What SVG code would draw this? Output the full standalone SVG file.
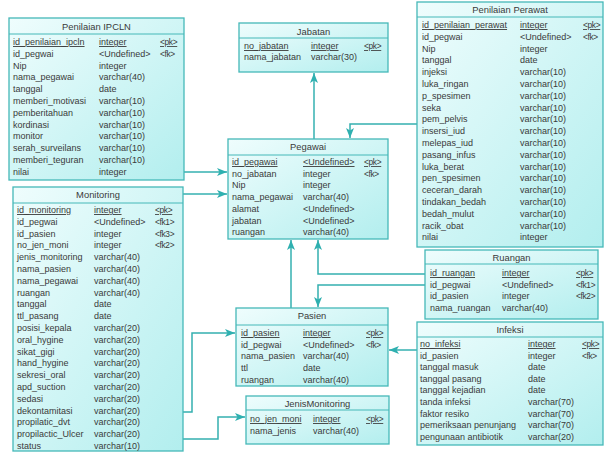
<svg xmlns="http://www.w3.org/2000/svg" width="606" height="453" viewBox="0 0 606 453">
<defs>
<linearGradient id="g" x1="0" y1="0" x2="1" y2="1">
<stop offset="0" stop-color="#effdfd"/>
<stop offset="1" stop-color="#b2eeee"/>
</linearGradient>
<marker id="ar" markerUnits="userSpaceOnUse" markerWidth="11" markerHeight="9" refX="10" refY="4" orient="auto">
<path d="M0,0 L10,4 L0,8 L2.5,4 z" fill="#2fb0b0"/>
</marker>
<style>
.box{fill:url(#g);stroke:#45b8b8;stroke-width:1.3}
.sep{stroke:#45b8b8;stroke-width:1}
text{font-family:"Liberation Sans",Arial,sans-serif;font-size:9px;fill:#3a3a3a}
.ti{text-anchor:middle;font-size:9.4px}
.pk{text-decoration:underline}
.k{font-size:8.4px;letter-spacing:-0.35px}
.conn{fill:none;stroke:#35b0b0;stroke-width:1.5}
</style>
</defs>
<rect width="606" height="453" fill="#ffffff"/>

<g id="connectors">
<path class="conn" d="M314,139 V73" marker-end="url(#ar)"/>
<path class="conn" d="M417,124 H350 V138" marker-end="url(#ar)"/>
<path class="conn" d="M184,172 H227" marker-end="url(#ar)"/>
<path class="conn" d="M183,194 H227" marker-end="url(#ar)"/>
<path class="conn" d="M291,308 V240" marker-end="url(#ar)"/>
<path class="conn" d="M425,274 H318 V240" marker-end="url(#ar)"/>
<path class="conn" d="M425,285 H318 V307" marker-end="url(#ar)"/>
<path class="conn" d="M183,412 H192 V333 H235" marker-end="url(#ar)"/>
<path class="conn" d="M183,439 H218 V417 H245" marker-end="url(#ar)"/>
<path class="conn" d="M417,350 H389" marker-end="url(#ar)"/>
</g>

<g id="penilaian-ipcln">
<rect class="box" x="9" y="18" width="175" height="162"/>
<line class="sep" x1="9" y1="34" x2="184" y2="34"/>
<text class="ti" x="96.5" y="30">Penilaian IPCLN</text>
<text class="pk" x="13" y="45">id_penilaian_ipcln</text><text class="pk" x="99" y="45">integer</text><text class="pk k" x="160" y="45">&lt;pk&gt;</text>
<text x="13" y="56.8">id_pegwai</text><text x="99" y="56.8">&lt;Undefined&gt;</text><text class="k" x="160" y="56.8">&lt;fk&gt;</text>
<text x="13" y="68.6">Nip</text><text x="99" y="68.6">integer</text>
<text x="13" y="80.4">nama_pegawai</text><text x="99" y="80.4">varchar(40)</text>
<text x="13" y="92.2">tanggal</text><text x="99" y="92.2">date</text>
<text x="13" y="104">memberi_motivasi</text><text x="99" y="104">varchar(10)</text>
<text x="13" y="115.8">pemberitahuan</text><text x="99" y="115.8">varchar(10)</text>
<text x="13" y="127.6">kordinasi</text><text x="99" y="127.6">varchar(10)</text>
<text x="13" y="139.4">monitor</text><text x="99" y="139.4">varchar(10)</text>
<text x="13" y="151.2">serah_surveilans</text><text x="99" y="151.2">varchar(10)</text>
<text x="13" y="163">memberi_teguran</text><text x="99" y="163">varchar(10)</text>
<text x="13" y="174.8">nilai</text><text x="99" y="174.8">integer</text>
</g>

<g id="monitoring">
<rect class="box" x="13" y="187" width="170" height="264"/>
<line class="sep" x1="13" y1="203" x2="183" y2="203"/>
<text class="ti" x="98" y="198">Monitoring</text>
<text class="pk" x="17" y="213">id_monitoring</text><text class="pk" x="94" y="213">integer</text><text class="pk k" x="155" y="213">&lt;pk&gt;</text>
<text x="17" y="224.8">id_pegwai</text><text x="94" y="224.8">&lt;Undefined&gt;</text><text class="k" x="155" y="224.8">&lt;fk1&gt;</text>
<text x="17" y="236.6">id_pasien</text><text x="94" y="236.6">integer</text><text class="k" x="155" y="236.6">&lt;fk3&gt;</text>
<text x="17" y="248.4">no_jen_moni</text><text x="94" y="248.4">integer</text><text class="k" x="155" y="248.4">&lt;fk2&gt;</text>
<text x="17" y="260.2">jenis_monitoring</text><text x="94" y="260.2">varchar(40)</text>
<text x="17" y="272">nama_pasien</text><text x="94" y="272">varchar(40)</text>
<text x="17" y="283.8">nama_pegawai</text><text x="94" y="283.8">varchar(40)</text>
<text x="17" y="295.6">ruangan</text><text x="94" y="295.6">varchar(40)</text>
<text x="17" y="307.4">tanggal</text><text x="94" y="307.4">date</text>
<text x="17" y="319.2">ttl_pasang</text><text x="94" y="319.2">date</text>
<text x="17" y="331">posisi_kepala</text><text x="94" y="331">varchar(20)</text>
<text x="17" y="342.8">oral_hygine</text><text x="94" y="342.8">varchar(20)</text>
<text x="17" y="354.6">sikat_gigi</text><text x="94" y="354.6">varchar(20)</text>
<text x="17" y="366.4">hand_hygine</text><text x="94" y="366.4">varchar(20)</text>
<text x="17" y="378.2">sekresi_oral</text><text x="94" y="378.2">varchar(20)</text>
<text x="17" y="390">apd_suction</text><text x="94" y="390">varchar(20)</text>
<text x="17" y="401.8">sedasi</text><text x="94" y="401.8">varchar(20)</text>
<text x="17" y="413.6">dekontamitasi</text><text x="94" y="413.6">varchar(20)</text>
<text x="17" y="425.4">propilatic_dvt</text><text x="94" y="425.4">varchar(20)</text>
<text x="17" y="437.2">propilactic_Ulcer</text><text x="94" y="437.2">varchar(20)</text>
<text x="17" y="449">status</text><text x="94" y="449">varchar(10)</text>
</g>

<g id="jabatan">
<rect class="box" x="239" y="23" width="149" height="49"/>
<line class="sep" x1="239" y1="38" x2="388" y2="38"/>
<text class="ti" x="313.5" y="35">Jabatan</text>
<text class="pk" x="244" y="49">no_jabatan</text><text class="pk" x="311" y="49">integer</text><text class="pk k" x="364" y="49">&lt;pk&gt;</text>
<text x="244" y="60">nama_jabatan</text><text x="311" y="60">varchar(30)</text>
</g>

<g id="pegawai">
<rect class="box" x="228" y="139" width="160" height="100"/>
<line class="sep" x1="228" y1="155" x2="388" y2="155"/>
<text class="ti" x="308" y="150">Pegawai</text>
<text class="pk" x="232" y="165">id_pegawai</text><text class="pk" x="303" y="165">&lt;Undefined&gt;</text><text class="pk k" x="364" y="165">&lt;pk&gt;</text>
<text x="232" y="176.7">no_jabatan</text><text x="303" y="176.7">integer</text><text class="k" x="364" y="176.7">&lt;fk&gt;</text>
<text x="232" y="188.4">Nip</text><text x="303" y="188.4">integer</text>
<text x="232" y="200.1">nama_pegawai</text><text x="303" y="200.1">varchar(40)</text>
<text x="232" y="211.8">alamat</text><text x="303" y="211.8">&lt;Undefined&gt;</text>
<text x="232" y="223.5">jabatan</text><text x="303" y="223.5">&lt;Undefined&gt;</text>
<text x="232" y="235.2">ruangan</text><text x="303" y="235.2">varchar(40)</text>
</g>

<g id="penilaian-perawat">
<rect class="box" x="417" y="2" width="186" height="245"/>
<line class="sep" x1="417" y1="17" x2="603" y2="17"/>
<text class="ti" x="510" y="13">Penilaian Perawat</text>
<text class="pk" x="422" y="28">id_penilaian_perawat</text><text class="pk" x="520" y="28">integer</text><text class="pk k" x="583" y="28">&lt;pk&gt;</text>
<text x="422" y="39.8">id_pegwai</text><text x="520" y="39.8">&lt;Undefined&gt;</text><text class="k" x="583" y="39.8">&lt;fk&gt;</text>
<text x="422" y="51.6">Nip</text><text x="520" y="51.6">integer</text>
<text x="422" y="63.4">tanggal</text><text x="520" y="63.4">date</text>
<text x="422" y="75.2">injeksi</text><text x="520" y="75.2">varchar(10)</text>
<text x="422" y="87">luka_ringan</text><text x="520" y="87">varchar(10)</text>
<text x="422" y="98.8">p_spesimen</text><text x="520" y="98.8">varchar(10)</text>
<text x="422" y="110.6">seka</text><text x="520" y="110.6">varchar(10)</text>
<text x="422" y="122.4">pem_pelvis</text><text x="520" y="122.4">varchar(10)</text>
<text x="422" y="134.2">insersi_iud</text><text x="520" y="134.2">varchar(10)</text>
<text x="422" y="146">melepas_iud</text><text x="520" y="146">varchar(10)</text>
<text x="422" y="157.8">pasang_infus</text><text x="520" y="157.8">varchar(10)</text>
<text x="422" y="169.6">luka_berat</text><text x="520" y="169.6">varchar(10)</text>
<text x="422" y="181.4">pen_spesimen</text><text x="520" y="181.4">varchar(10)</text>
<text x="422" y="193.2">ceceran_darah</text><text x="520" y="193.2">varchar(10)</text>
<text x="422" y="205">tindakan_bedah</text><text x="520" y="205">varchar(10)</text>
<text x="422" y="216.8">bedah_mulut</text><text x="520" y="216.8">varchar(10)</text>
<text x="422" y="228.6">racik_obat</text><text x="520" y="228.6">varchar(10)</text>
<text x="422" y="240.4">nilai</text><text x="520" y="240.4">integer</text>
</g>

<g id="ruangan">
<rect class="box" x="425" y="250" width="173" height="69"/>
<line class="sep" x1="425" y1="264" x2="598" y2="264"/>
<text class="ti" x="511.5" y="261">Ruangan</text>
<text class="pk" x="430" y="276">id_ruangan</text><text class="pk" x="502" y="276">integer</text><text class="pk k" x="576" y="276">&lt;pk&gt;</text>
<text x="430" y="287.7">id_pegwai</text><text x="502" y="287.7">&lt;Undefined&gt;</text><text class="k" x="576" y="287.7">&lt;fk1&gt;</text>
<text x="430" y="299.4">id_pasien</text><text x="502" y="299.4">integer</text><text class="k" x="576" y="299.4">&lt;fk2&gt;</text>
<text x="430" y="311.1">nama_ruangan</text><text x="502" y="311.1">varchar(40)</text>
</g>

<g id="pasien">
<rect class="box" x="236" y="308" width="152" height="78"/>
<line class="sep" x1="236" y1="325" x2="388" y2="325"/>
<text class="ti" x="312" y="319">Pasien</text>
<text class="pk" x="241" y="336">id_pasien</text><text class="pk" x="303" y="336">integer</text><text class="pk k" x="366" y="336">&lt;pk&gt;</text>
<text x="241" y="347.7">id_pegwai</text><text x="303" y="347.7">&lt;Undefined&gt;</text><text class="k" x="366" y="347.7">&lt;fk&gt;</text>
<text x="241" y="359.4">nama_pasien</text><text x="303" y="359.4">varchar(40)</text>
<text x="241" y="371.1">ttl</text><text x="303" y="371.1">date</text>
<text x="241" y="382.8">ruangan</text><text x="303" y="382.8">varchar(40)</text>
</g>

<g id="infeksi">
<rect class="box" x="417" y="322" width="186" height="123"/>
<line class="sep" x1="417" y1="337" x2="603" y2="337"/>
<text class="ti" x="510" y="333">Infeksi</text>
<text class="pk" x="420" y="347">no_infeksi</text><text class="pk" x="528" y="347">integer</text><text class="pk k" x="582" y="347">&lt;pk&gt;</text>
<text x="420" y="358.6">id_pasien</text><text x="528" y="358.6">integer</text><text class="k" x="582" y="358.6">&lt;fk&gt;</text>
<text x="420" y="370.2">tanggal masuk</text><text x="528" y="370.2">date</text>
<text x="420" y="381.8">tanggal pasang</text><text x="528" y="381.8">date</text>
<text x="420" y="393.4">tanggal kejadian</text><text x="528" y="393.4">date</text>
<text x="420" y="405">tanda infeksi</text><text x="528" y="405">varchar(70)</text>
<text x="420" y="416.6">faktor resiko</text><text x="528" y="416.6">varchar(70)</text>
<text x="420" y="428.2">pemeriksaan penunjang</text><text x="528" y="428.2">varchar(70)</text>
<text x="420" y="439.8">pengunaan antibiotik</text><text x="528" y="439.8">varchar(20)</text>
</g>

<g id="jenis-monitoring">
<rect class="box" x="246" y="396" width="143" height="48"/>
<line class="sep" x1="246" y1="410" x2="389" y2="410"/>
<text class="ti" x="317.5" y="407">JenisMonitoring</text>
<text class="pk" x="250" y="422">no_jen_moni</text><text class="pk" x="313" y="422">integer</text><text class="pk k" x="366" y="422">&lt;pk&gt;</text>
<text x="250" y="434">nama_jenis</text><text x="313" y="434">varchar(40)</text>
</g>
</svg>
